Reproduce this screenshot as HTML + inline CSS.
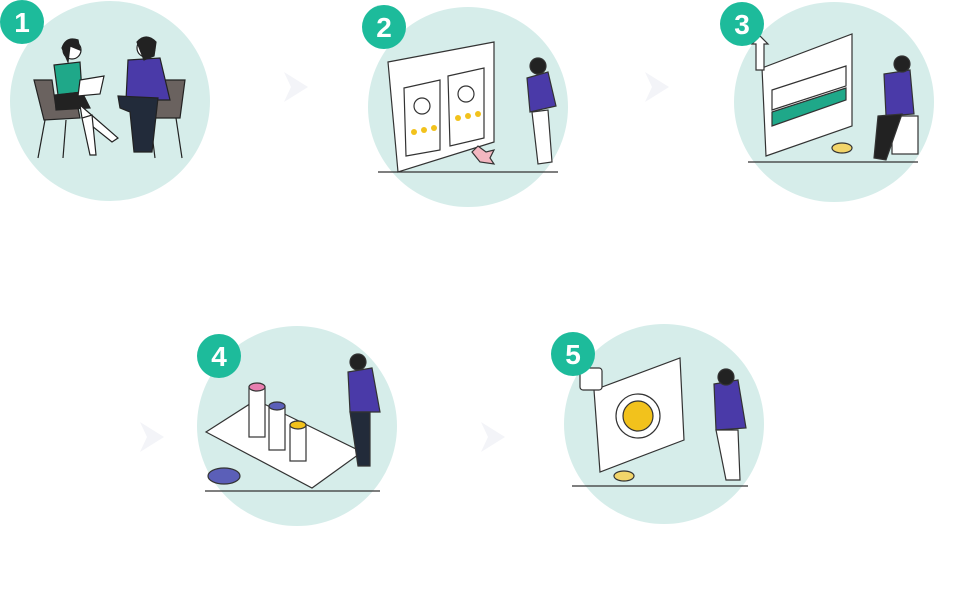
<!DOCTYPE html>
<html><head><meta charset="utf-8"><style>
html,body{margin:0;padding:0;background:#fff;width:976px;height:601px;overflow:hidden}
svg{display:block}
text{font-family:"Liberation Sans",sans-serif;font-weight:bold;fill:#fff}
</style></head><body>
<svg width="976" height="601" viewBox="0 0 976 601" xmlns="http://www.w3.org/2000/svg">
<!-- chevrons -->
<g fill="#f3f4f8">
<path d="M284 72 L308 87 L284 102 L291 87 Z"/>
<path d="M645 72 L669 87 L645 102 L652 87 Z"/>
<path d="M140 422 L164 437 L140 452 L147 437 Z"/>
<path d="M481 422 L505 437 L481 452 L488 437 Z"/>
</g>
<!-- circles -->
<g fill="#d6edea">
<circle cx="110" cy="101" r="100"/>
<circle cx="468" cy="107" r="100"/>
<circle cx="834" cy="102" r="100"/>
<circle cx="297" cy="426" r="100"/>
<circle cx="664" cy="424" r="100"/>
</g>
<!-- scene 1 -->
<g stroke="#222" stroke-width="1.2">
<path d="M34 80 L52 80 L56 108 L78 108 L80 118 L44 120 Z" fill="#6a625f"/>
<path d="M144 80 L185 80 L180 118 L140 118 Z" fill="#6a625f"/>
<line x1="45" y1="120" x2="38" y2="158"/><line x1="66" y1="120" x2="63" y2="158"/>
<line x1="150" y1="118" x2="155" y2="158"/><line x1="176" y1="118" x2="182" y2="158"/>
<path d="M54 65 L80 62 L82 92 L58 95 Z" fill="#1fa889"/>
<path d="M55 95 L82 92 L90 108 L56 110 Z" fill="#222"/>
<path d="M80 105 L118 138 L112 142 L82 118 Z" fill="#fff"/>
<path d="M82 118 L90 155 L96 155 L92 115 Z" fill="#fff"/>
<path d="M128 60 L160 58 L170 100 L126 100 Z" fill="#4a3aa8"/>
<path d="M118 96 L158 98 L152 152 L134 152 L130 112 L120 108 Z" fill="#222b3a"/>
<path d="M80 80 L104 76 L100 94 L78 96 Z" fill="#fff"/>
<circle cx="72" cy="50" r="9" fill="#fff"/>
<path d="M62 48 Q66 36 78 40 L80 50 L70 46 L68 62 Z" fill="#222"/>
<circle cx="146" cy="48" r="9" fill="#fff"/>
<path d="M137 42 Q146 32 156 42 L154 56 L144 60 Z" fill="#222"/>
</g>
<!-- scene 2 -->
<g stroke="#333" stroke-width="1.2" fill="#fff">
<path d="M388 62 L494 42 L494 142 L398 172 Z"/>
<path d="M404 88 L440 80 L440 150 L406 156 Z"/>
<path d="M448 76 L484 68 L484 138 L450 146 Z"/>
<circle cx="422" cy="106" r="8"/><circle cx="466" cy="94" r="8"/>
<path d="M472 152 L478 146 L486 152 L494 150 L490 158 L494 164 L480 162 Z" fill="#f3b7c0"/>
<path d="M527 78 L548 72 L556 106 L530 112 Z" fill="#4a3aa8"/>
<path d="M532 112 L548 110 L552 162 L538 164 Z"/>
<circle cx="538" cy="66" r="8" fill="#222"/>
<line x1="378" y1="172" x2="558" y2="172"/>
</g>
<g fill="#f2c21c"><circle cx="414" cy="132" r="3"/><circle cx="424" cy="130" r="3"/><circle cx="434" cy="128" r="3"/><circle cx="458" cy="118" r="3"/><circle cx="468" cy="116" r="3"/><circle cx="478" cy="114" r="3"/></g>
<!-- scene 3 -->
<g stroke="#333" stroke-width="1.2" fill="#fff">
<path d="M762 68 L852 34 L852 126 L766 156 Z"/>
<path d="M772 90 L846 66 L846 86 L772 110 Z" fill="#fff"/>
<path d="M772 112 L846 88 L846 100 L772 126 Z" fill="#1fa889"/>
<path d="M752 44 L760 36 L768 44 L764 44 L764 70 L756 70 L756 44 Z"/>
<rect x="892" y="116" width="26" height="38"/>
<path d="M884 74 L910 70 L914 114 L886 116 Z" fill="#4a3aa8"/>
<path d="M878 116 L902 114 L886 160 L874 158 Z" fill="#222"/>
<circle cx="902" cy="64" r="8" fill="#222"/>
<ellipse cx="842" cy="148" rx="10" ry="5" fill="#f2d56a"/>
<line x1="748" y1="162" x2="918" y2="162"/>
</g>
<!-- scene 4 -->
<g stroke="#333" stroke-width="1.2" fill="#fff">
<path d="M206 432 L256 400 L362 452 L312 488 Z"/>
<rect x="249" y="387" width="16" height="50"/><ellipse cx="257" cy="387" rx="8" ry="4" fill="#e87fb0"/>
<rect x="269" y="406" width="16" height="44"/><ellipse cx="277" cy="406" rx="8" ry="4" fill="#5b5fb8"/>
<rect x="290" y="425" width="16" height="36"/><ellipse cx="298" cy="425" rx="8" ry="4" fill="#f2c21c"/>
<ellipse cx="224" cy="476" rx="16" ry="8" fill="#5b5fb8"/>
<path d="M348 372 L372 368 L380 412 L350 412 Z" fill="#4a3aa8"/>
<path d="M350 412 L370 412 L370 466 L358 466 Z" fill="#222b3a"/>
<circle cx="358" cy="362" r="8" fill="#222"/>
<line x1="205" y1="491" x2="380" y2="491"/>
</g>
<!-- scene 5 -->
<g stroke="#333" stroke-width="1.2" fill="#fff">
<path d="M594 390 L680 358 L684 440 L600 472 Z"/>
<circle cx="638" cy="416" r="22" fill="#fff"/>
<circle cx="638" cy="416" r="15" fill="#f2c21c"/>
<rect x="580" y="368" width="22" height="22" rx="3"/>
<path d="M714 384 L738 380 L746 428 L716 430 Z" fill="#4a3aa8"/>
<path d="M716 430 L738 430 L740 480 L726 480 Z"/>
<circle cx="726" cy="377" r="8" fill="#222"/>
<ellipse cx="624" cy="476" rx="10" ry="5" fill="#f2d56a"/>
<line x1="572" y1="486" x2="748" y2="486"/>
</g>
<!-- badges -->
<g fill="#1dbb9b">
<circle cx="22" cy="22" r="22"/>
<circle cx="384" cy="27" r="22"/>
<circle cx="742" cy="24" r="22"/>
<circle cx="219" cy="356" r="22"/>
<circle cx="573" cy="354" r="22"/>
</g>
<g font-size="28" text-anchor="middle">
<text x="22" y="32">1</text>
<text x="384" y="37">2</text>
<text x="742" y="34">3</text>
<text x="219" y="366">4</text>
<text x="573" y="364">5</text>
</g>
</svg>
</body></html>
